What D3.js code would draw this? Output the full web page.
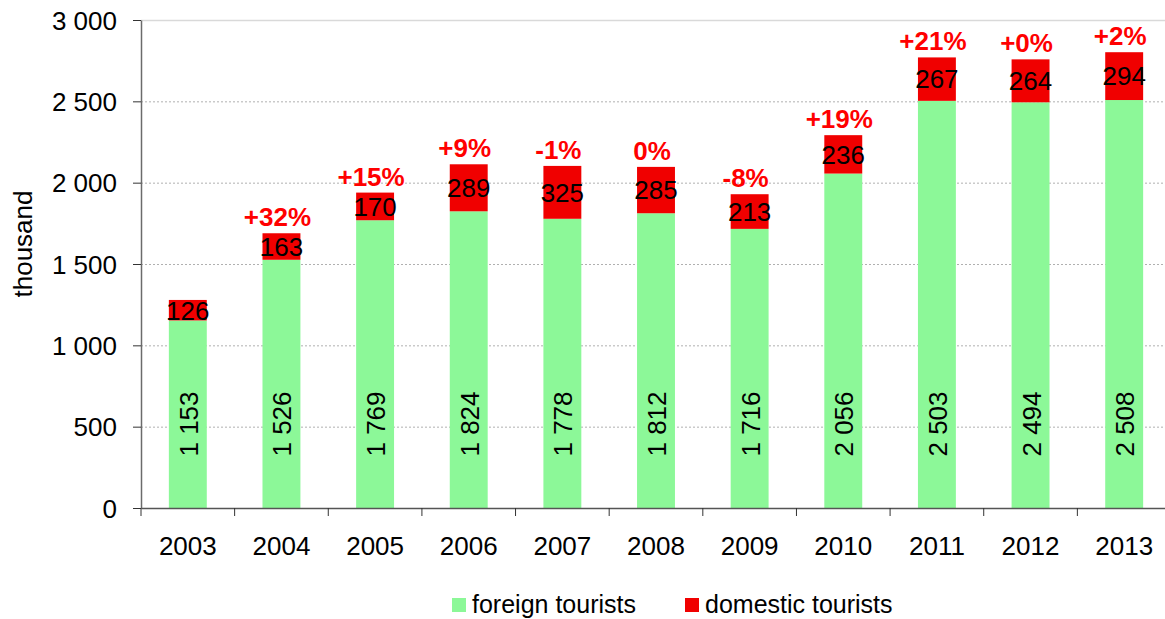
<!DOCTYPE html>
<html>
<head>
<meta charset="utf-8">
<script src="https://cdn.jsdelivr.net/npm/d3@7"></script>
<style>
  body { margin: 0; background: #fff; }
  svg { display: block; font-family: "Liberation Sans", Arial, sans-serif; }
</style>
</head>
<body>
<div id="chart"></div>
<script>
// data
const years = ["2003","2004","2005","2006","2007","2008","2009","2010","2011","2012","2013"];
const foreign = [1153, 1526, 1769, 1824, 1778, 1812, 1716, 2056, 2503, 2494, 2508];
const domestic = [126, 163, 170, 289, 325, 285, 213, 236, 267, 264, 294];
const changes = ["", "+32%", "+15%", "+9%", "-1%", "0%", "-8%", "+19%", "+21%", "+0%", "+2%"];
const yTicks = [0, 500, 1000, 1500, 2000, 2500, 3000];

const width = 1165, height = 619;
const margin = {top: 20, right: -6, bottom: 111, left: 141};
const fontFam = "Liberation Sans, Arial, sans-serif";

const svg = d3.select("#chart").append("svg")
    .attr("width", width)
    .attr("height", height);

const x = d3.scaleBand()
    .domain(years)
    .range([margin.left, width - margin.right])
    .paddingInner(0.595)
    .paddingOuter(0.2975);

const y = d3.scaleLinear()
    .domain([0, 3000])
    .range([height - margin.bottom, margin.top]);

const fmt = v => d3.format(",")(v).replace(/,/g, " ");

// grid
svg.append("g")
  .selectAll("line")
  .data(yTicks.filter(t => t > 0))
  .join("line")
    .attr("x1", margin.left)
    .attr("x2", width)
    .attr("y1", d => y(d) + 0.5)
    .attr("y2", d => y(d) + 0.5)
    .attr("stroke", d => d === 3000 ? "#d9d9d9" : "#b0b0b0")
    .attr("stroke-width", d => d === 3000 ? 1.5 : 1)
    .attr("stroke-dasharray", d => d === 3000 ? null : "2,2");

const rows = years.map((yr, i) => ({year: yr, f: foreign[i], d: domestic[i], c: changes[i]}));

// foreign bars
svg.append("g")
  .selectAll("rect")
  .data(rows)
  .join("rect")
    .attr("x", d => x(d.year))
    .attr("width", x.bandwidth())
    .attr("y", d => y(d.f))
    .attr("height", d => y(0) - y(d.f))
    .attr("fill", "#8cf898");

// domestic bars
svg.append("g")
  .selectAll("rect")
  .data(rows)
  .join("rect")
    .attr("x", d => x(d.year))
    .attr("width", x.bandwidth())
    .attr("y", d => y(d.f + d.d))
    .attr("height", d => y(d.f) - y(d.f + d.d))
    .attr("fill", "#f00000");

// axes
const yAxis = svg.append("g")
    .attr("transform", `translate(${margin.left},0)`)
    .call(d3.axisLeft(y).tickValues(yTicks).tickFormat(fmt).tickSize(8).tickSizeOuter(0));
yAxis.select(".domain").attr("stroke", "#6b6b6b").attr("stroke-width", 1.5);
yAxis.selectAll(".tick line").attr("stroke", "#333");
yAxis.selectAll("text").attr("font-size", 26).attr("fill", "#000").attr("x", -24)
    .attr("dy", "0.35em").attr("font-family", fontFam);

const xAxis = svg.append("g")
    .attr("transform", `translate(0,${y(0)})`)
    .call(d3.axisBottom(x).tickSize(0).tickSizeOuter(0));
xAxis.select(".domain").attr("stroke", "#555").attr("stroke-width", 1.5);
xAxis.selectAll("text").attr("font-size", 26).attr("fill", "#000")
    .attr("y", 47).attr("dy", 0).attr("font-family", fontFam);
// tick marks between categories
const step = x.step();
svg.append("g")
  .selectAll("line")
  .data(d3.range(years.length + 1))
  .join("line")
    .attr("x1", i => margin.left + i * step)
    .attr("x2", i => margin.left + i * step)
    .attr("y1", y(0))
    .attr("y2", y(0) + 8)
    .attr("stroke", "#333");

// y title
svg.append("text")
    .attr("transform", `translate(32,244) rotate(-90)`)
    .attr("text-anchor", "middle")
    .attr("font-size", 26)
    .text("thousand");

// foreign labels (rotated)
svg.append("g")
  .selectAll("text")
  .data(rows)
  .join("text")
    .attr("transform", d => `translate(${x(d.year) + x.bandwidth() / 2 + 10},${y(0) - 84}) rotate(-90)`)
    .attr("text-anchor", "middle")
    .attr("font-size", 26)
    .text(d => fmt(d.f));

// domestic labels
svg.append("g")
  .selectAll("text")
  .data(rows)
  .join("text")
    .attr("x", d => x(d.year) + x.bandwidth() / 2)
    .attr("y", d => y(d.f + d.d / 2))
    .attr("dy", "0.36em")
    .attr("text-anchor", "middle")
    .attr("font-size", 26)
    .text(d => d.d);

// change labels
svg.append("g")
  .selectAll("text")
  .data(rows)
  .join("text")
    .attr("x", d => x(d.year) + x.bandwidth() / 2 - 4)
    .attr("y", d => y(d.f + d.d) - 7)
    .attr("text-anchor", "middle")
    .attr("font-size", 26)
    .attr("font-weight", "bold")
    .attr("fill", "#ff0000")
    .text(d => d.c);

// legend
const legend = [["foreign tourists", "#8cf898", 452], ["domestic tourists", "#f00000", 685]];
const lg = svg.append("g")
  .selectAll("g")
  .data(legend)
  .join("g")
    .attr("transform", d => `translate(${d[2]},598)`);
lg.append("rect").attr("width", 14).attr("height", 14).attr("fill", d => d[1]);
lg.append("text").attr("x", 20).attr("y", 15).attr("font-size", 25).text(d => d[0]);
</script>
</body>
</html>
